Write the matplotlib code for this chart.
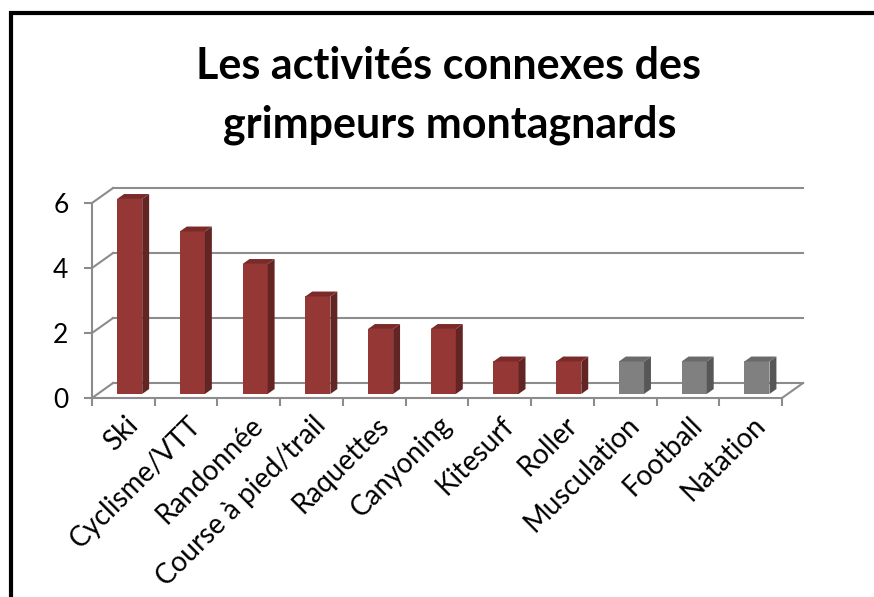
#!/usr/bin/env python3
"""Histogramme 3D façon Excel : activités connexes des grimpeurs"""
import matplotlib
matplotlib.use('Agg')
import matplotlib.pyplot as plt
from matplotlib.patches import Polygon, Rectangle
from matplotlib.lines import Line2D

plt.rcParams['font.family'] = ['Lato', 'DejaVu Sans']

TITLE_LINES = ["Les activités connexes des", "grimpeurs montagnards"]
CATEGORIES = ["Ski", "Cyclisme/VTT", "Randonnée", "Course à pied/trail", "Raquettes",
              "Canyoning", "Kitesurf", "Roller", "Musculation", "Football", "Natation"]
VALUES = [6, 5, 4, 3, 2, 2, 1, 1, 1, 1, 1]
HIGHLIGHT = [True] * 8 + [False] * 3   # rouge / gris
Y_TICKS = [0, 2, 4, 6]

RED = ("#953735", "#632523", "#7a2b29")    # face, côté, dessus
GREY = ("#808080", "#575757", "#6a6a6a")
GRID = "#8c8c8c"

# profondeur du mur du fond (unités données)
DX, DY = 0.335, 0.46
F0, F1 = 0.27, 0.60        # profondeur avant / arrière des barres
BAR_OFF, BAR_W = 0.31, 0.40

W, H = 874, 597
fig = plt.figure(figsize=(W / 100, H / 100), dpi=100)
fig.patch.set_facecolor("white")

# cadre noir
fig.add_artist(Rectangle((11 / W, -0.1), 1.2, (H - 13) / H + 0.1, transform=fig.transFigure,
                         fill=False, edgecolor="black", linewidth=3))

ax = fig.add_axes([92 / W, (H - 398) / H, 690 / W, 195 / H])
ax.set_xlim(0, len(CATEGORIES))
ax.set_ylim(0, 6)
for s in ["top", "right", "bottom"]:
    ax.spines[s].set_visible(False)
ax.spines["left"].set_color(GRID)
ax.spines["left"].set_linewidth(1.5)
ax.set_facecolor("none")

n = len(CATEGORIES)

# murs / quadrillage
for v in Y_TICKS:
    ax.add_line(Line2D([0, DX], [v, v + DY], color=GRID, lw=1.5, clip_on=False, zorder=1))
    ax.add_line(Line2D([DX, n + DX], [v + DY, v + DY], color=GRID, lw=1.5, clip_on=False, zorder=1))
ax.add_line(Line2D([0, n], [0, 0], color=GRID, lw=1.5, clip_on=False, zorder=1))
ax.add_line(Line2D([n, n + DX], [0, DY], color=GRID, lw=1.5, clip_on=False, zorder=1))

# barres
for i, (v, hl) in enumerate(zip(VALUES, HIGHLIGHT)):
    face, side, top = RED if hl else GREY
    x0 = i + BAR_OFF + F0 * DX
    y0 = F0 * DY
    x1 = x0 + BAR_W
    ddx, ddy = (F1 - F0) * DX, (F1 - F0) * DY
    kw = dict(clip_on=False, zorder=3, linewidth=0)
    ax.add_patch(Polygon([(x0, y0), (x1, y0), (x1, y0 + v), (x0, y0 + v)], closed=True,
                         facecolor=face, **kw))
    ax.add_patch(Polygon([(x1, y0), (x1 + ddx, y0 + ddy), (x1 + ddx, y0 + v + ddy), (x1, y0 + v)],
                         closed=True, facecolor=side, **kw))
    ax.add_patch(Polygon([(x0, y0 + v), (x1, y0 + v), (x1 + ddx, y0 + v + ddy), (x0 + ddx, y0 + v + ddy)],
                         closed=True, facecolor=top, **kw))

# axes
ax.set_yticks(Y_TICKS)
ax.set_yticklabels([str(t) for t in Y_TICKS], fontsize=19)
ax.tick_params(axis="y", length=6, width=1.5, color=GRID, pad=11)
ax.set_xticks([i + 0.52 for i in range(n)])
ax.set_xticklabels(CATEGORIES, rotation=45, ha="right", rotation_mode="anchor", fontsize=20)
ax.set_xticks(range(n + 1), minor=True)
ax.tick_params(axis="x", which="major", length=0, pad=10)
ax.tick_params(axis="x", which="minor", length=6, width=1.5, color=GRID)

fig.text(448 / W, 1 - 79 / H, TITLE_LINES[0], ha="center", va="baseline",
         fontsize=31, fontweight="bold")
fig.text(450 / W, 1 - 137 / H, TITLE_LINES[1], ha="center", va="baseline",
         fontsize=31, fontweight="bold")

plt.savefig("out.png", dpi=100, facecolor=fig.get_facecolor())
plt.close()
